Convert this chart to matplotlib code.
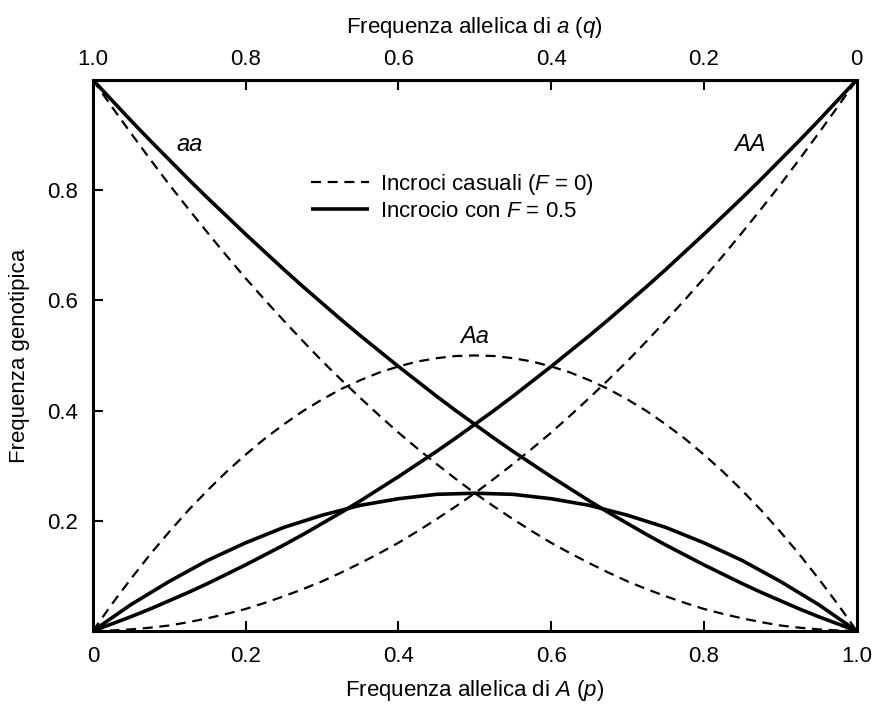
import matplotlib
matplotlib.use("Agg")
from matplotlib import pyplot as plt
from matplotlib.lines import Line2D

plt.rcParams['font.family'] = ['Liberation Sans', 'DejaVu Sans']
plt.rcParams['mathtext.fontset'] = 'custom'
plt.rcParams['mathtext.rm'] = 'Liberation Sans'
plt.rcParams['mathtext.it'] = 'Liberation Sans:italic'

## values, p in steps of 0.025
p = [0, .025, .05, .075, .1, .125, .15, .175, .2, .225, .25, .275, .3, .325,
     .35, .375, .4, .425, .45, .475, .5, .525, .55, .575, .6, .625, .65, .675,
     .7, .725, .75, .775, .8, .825, .85, .875, .9, .925, .95, .975, 1]

# random mating (F = 0), dashed
AA_0 = [0, .001, .003, .006, .010, .016, .023, .031, .040, .051, .063, .076,
        .090, .106, .123, .141, .160, .181, .203, .226, .250, .276, .303, .331,
        .360, .391, .423, .456, .490, .526, .563, .601, .640, .681, .723, .766,
        .810, .856, .903, .951, 1]
aa_0 = AA_0[::-1]
Aa_0_half = [0, .049, .095, .139, .180, .219, .255, .289, .320, .349, .375,
             .399, .420, .439, .455, .469, .480, .489, .495, .499, .500]
Aa_0 = Aa_0_half + Aa_0_half[-2::-1]

# inbreeding F = 0.5, solid
AA_5 = [0, .013, .026, .040, .055, .070, .086, .103, .120, .138, .156, .175,
        .195, .215, .236, .258, .280, .303, .326, .350, .375, .400, .426, .453,
        .480, .508, .536, .565, .595, .625, .656, .688, .720, .753, .786, .820,
        .855, .890, .926, .963, 1]
aa_5 = AA_5[::-1]
Aa_5_half = [0, .024, .048, .069, .090, .109, .128, .144, .160, .174, .188,
             .199, .210, .219, .228, .234, .240, .244, .248, .249, .250]
Aa_5 = Aa_5_half + Aa_5_half[-2::-1]

ticks = [0.2, 0.4, 0.6, 0.8]

fig = plt.figure(figsize=(8.76, 7.07), dpi=100)
ax = fig.add_axes([0.106, 0.1075, 0.872, 0.7795])

dash = dict(color='k', lw=1.6, ls=(0, (4.5, 3)))
solid = dict(color='k', lw=2.6, solid_capstyle='butt')
for y in (AA_0, aa_0, Aa_0):
    ax.plot(p, y, **dash)
for y in (AA_5, aa_5, Aa_5):
    ax.plot(p, y, **solid)

ax.set_xlim(0, 1)
ax.set_ylim(0, 1)
for s in ax.spines.values():
    s.set_linewidth(2.2)

ax.set_xticks([0] + ticks + [1])
ax.set_xticklabels(['0', '0.2', '0.4', '0.6', '0.8', '1.0'])
ax.set_yticks(ticks)
ax.set_yticklabels(['0.2', '0.4', '0.6', '0.8'])
ax.tick_params(direction='in', length=7, width=1.5, labelsize=16, pad=11)
ax.xaxis.get_major_ticks()[0].tick1line.set_visible(False)
ax.xaxis.get_major_ticks()[-1].tick1line.set_visible(False)

top = ax.secondary_xaxis('top', functions=(lambda x: 1 - x, lambda x: 1 - x))
top.set_xticks([1.0, 0.8, 0.6, 0.4, 0.2, 0])
top.set_xticklabels(['1.0', '0.8', '0.6', '0.4', '0.2', '0'])
top.tick_params(direction='in', length=7, width=1.5, labelsize=16, pad=7)
top.xaxis.get_major_ticks()[0].tick2line.set_visible(False)
top.xaxis.get_major_ticks()[-1].tick2line.set_visible(False)
top.spines['top'].set_linewidth(2.2)
top.set_xlabel(r'Frequenza allelica di $a$ ($q$)', fontsize=16, labelpad=12)

ax.set_xlabel(r'Frequenza allelica di $A$ ($p$)', fontsize=16, labelpad=8)
ax.set_ylabel('Frequenza genotipica', fontsize=16, labelpad=12)

ax.text(0.127, 0.882, 'aa', style='italic', fontsize=17, ha='center', va='center')
ax.text(0.86, 0.882, 'AA', style='italic', fontsize=17, ha='center', va='center')
ax.text(0.5, 0.534, 'Aa', style='italic', fontsize=17, ha='center', va='center')

handles = [Line2D([], [], **dash), Line2D([], [], **solid)]
ax.legend(handles, [r'Incroci casuali ($F$ = 0)', r'Incrocio con $F$ = 0.5'],
          loc='upper left', bbox_to_anchor=(0.26, 0.87), frameon=False,
          fontsize=16, handlelength=2.6, handletextpad=0.5, labelspacing=0.2)

fig.savefig('out.png', dpi=100)
